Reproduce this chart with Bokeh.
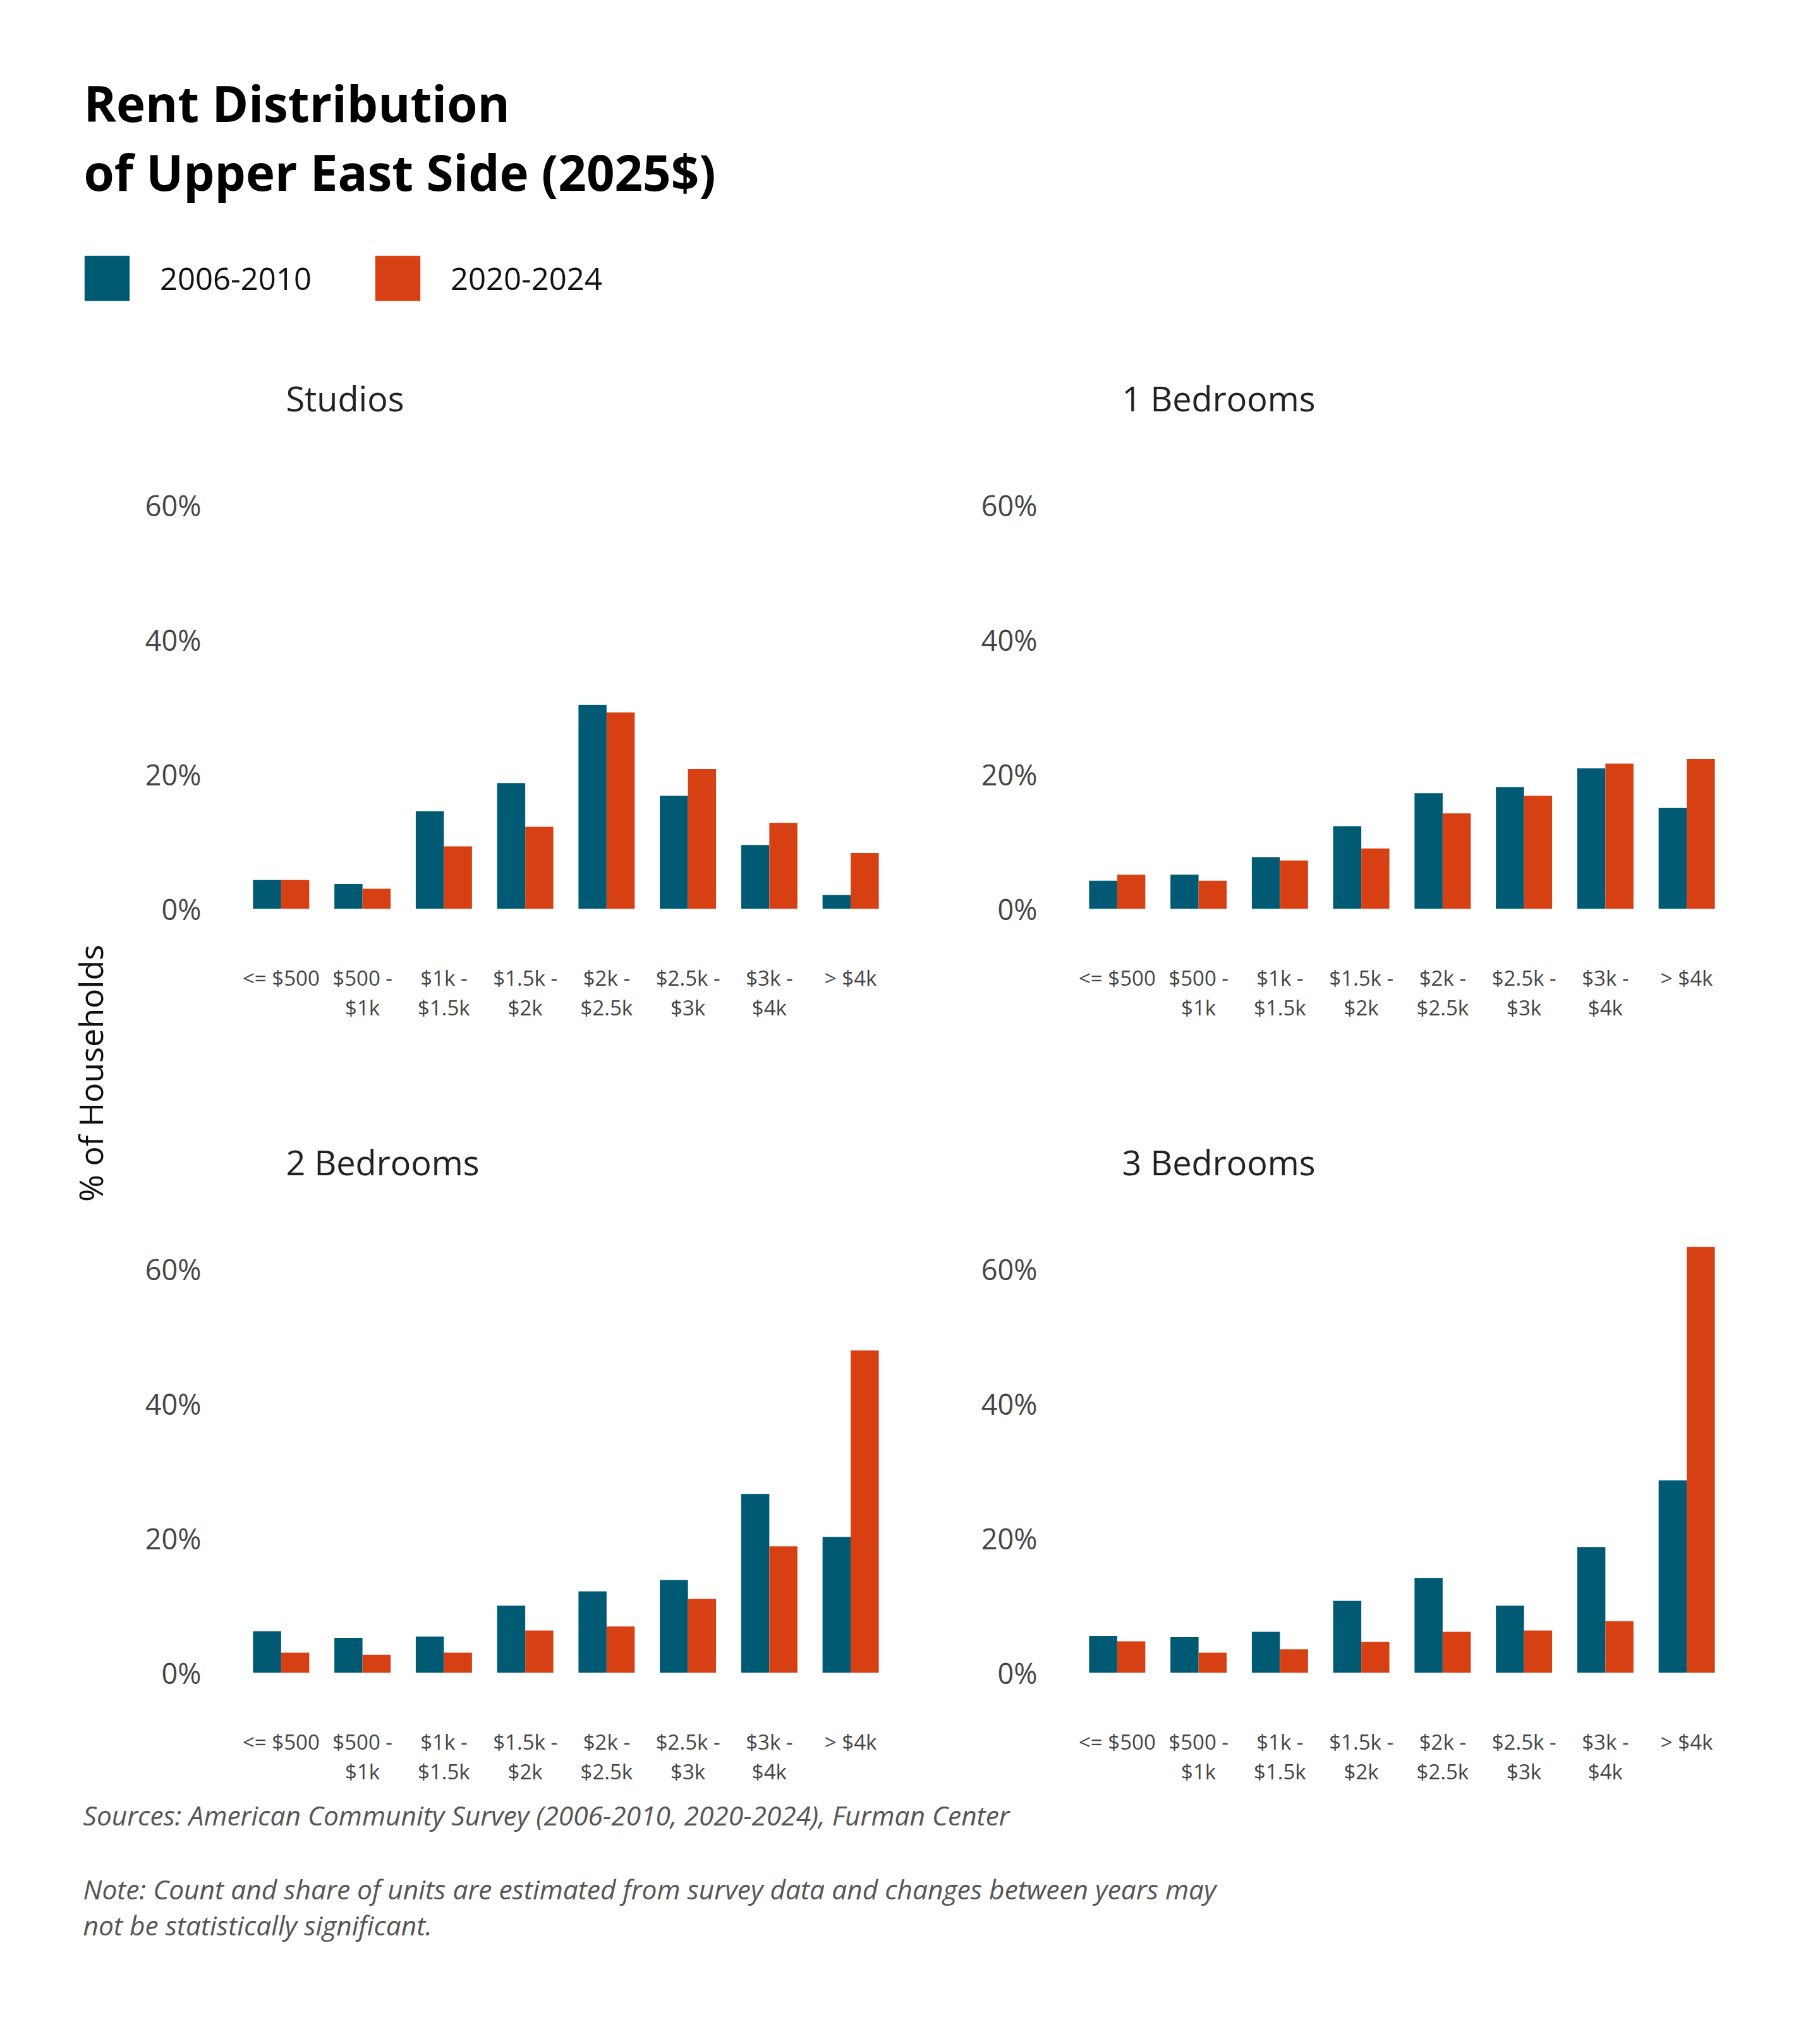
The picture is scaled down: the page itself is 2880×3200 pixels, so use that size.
import math
from bokeh.plotting import figure
from bokeh.models import (FactorRange, Range1d, FixedTicker, PrintfTickFormatter,
                          Legend, LegendItem, ColumnDataSource)
from bokeh.transform import dodge
from bokeh.layouts import row, column
from bokeh.embed import file_html
from bokeh.resources import INLINE
from bokeh.core.properties import value

# ---------------- data ----------------
categories = ["<= $500", "$500 -\n$1k", "$1k -\n$1.5k", "$1.5k -\n$2k",
              "$2k -\n$2.5k", "$2.5k -\n$3k", "$3k -\n$4k", "> $4k"]
series_names = ["2006-2010", "2020-2024"]
panel_titles = ["Studios", "1 Bedrooms", "2 Bedrooms", "3 Bedrooms"]

studios_2006 = [4.3, 3.7, 14.5, 18.7, 30.3, 16.8, 9.5, 2.1]
studios_2020 = [4.3, 3.0, 9.3, 12.2, 29.2, 20.8, 12.8, 8.3]
br1_2006 = [4.2, 5.1, 7.7, 12.3, 17.2, 18.1, 20.9, 15.0]
br1_2020 = [5.1, 4.2, 7.2, 9.0, 14.2, 16.8, 21.6, 22.3]
br2_2006 = [6.2, 5.2, 5.4, 10.0, 12.1, 13.8, 26.6, 20.2]
br2_2020 = [3.0, 2.7, 3.0, 6.3, 6.9, 11.0, 18.8, 47.9]
br3_2006 = [5.5, 5.3, 6.1, 10.7, 14.1, 10.0, 18.7, 28.6]
br3_2020 = [4.7, 3.0, 3.5, 4.6, 6.1, 6.3, 7.7, 63.3]

y_ticks = [0, 20, 40, 60]

title_lines = ["Rent Distribution", "of Upper East Side (2025$)"]
y_label = "% of Households"
source_text = "Sources: American Community Survey (2006-2010, 2020-2024), Furman Center"
note_lines = ["Note: Count and share of units are estimated from survey data and changes between years may",
              "not be statistically significant."]

# ---------------- style ----------------
BLUE = "#005a74"
ORANGE = "#d64012"
FONT = "Open Sans"
TICK_COLOR = "#444444"

W = 2864
HEAD_H = 500
YLAB_W = 200
FRAME_W = 1030
FRAME_H = 703
TOP_B = 235
ROW1_H = 1209
ROW2_H = TOP_B + FRAME_H + 192
FOOT_H = 3184 - HEAD_H - ROW1_H - ROW2_H

BAR_W = 0.3455


def panel(title, a, b, bl, br, h):
    src = ColumnDataSource(dict(cat=categories, a=a, b=b))
    p = figure(x_range=FactorRange(*categories), y_range=Range1d(0, 66),
               width=bl + FRAME_W + br, height=h,
               min_border_left=bl, min_border_right=br,
               min_border_top=TOP_B, min_border_bottom=h - TOP_B - FRAME_H,
               output_backend="svg", toolbar_location=None, tools="")
    p.vbar(x=dodge("cat", -BAR_W / 2, range=p.x_range), top="a", width=BAR_W,
           source=src, fill_color=BLUE, line_color=None)
    p.vbar(x=dodge("cat", BAR_W / 2, range=p.x_range), top="b", width=BAR_W,
           source=src, fill_color=ORANGE, line_color=None)
    p.outline_line_color = None
    p.xgrid.visible = False
    p.ygrid.visible = False
    p.background_fill_color = "white"
    p.border_fill_color = "white"

    p.yaxis.ticker = FixedTicker(ticks=y_ticks)
    p.yaxis.formatter = PrintfTickFormatter(format="%d%%")
    for ax in (p.xaxis[0], p.yaxis[0]):
        ax.axis_line_color = None
        ax.major_tick_line_color = None
        ax.minor_tick_line_color = None
        ax.major_tick_out = 0
        ax.major_tick_in = 0
        ax.major_label_text_font = FONT
        ax.major_label_text_color = TICK_COLOR
    p.yaxis.major_label_text_font_size = "45px"
    p.yaxis.major_label_standoff = 62
    p.xaxis.major_label_text_font_size = "33px"
    p.xaxis.major_label_text_line_height = 1.05
    p.xaxis.major_label_standoff = 86

    p.title.text = title
    p.title.align = "left"
    p.title.offset = 72
    p.title.standoff = 137
    p.title.text_font = FONT
    p.title.text_font_style = "normal"
    p.title.text_font_size = "54px"
    p.title.text_color = "#222222"
    return p


p1 = panel(panel_titles[0], studios_2006, studios_2020, 180, 110, ROW1_H)
p2 = panel(panel_titles[1], br1_2006, br1_2020, 183, 131, ROW1_H)
p3 = panel(panel_titles[2], br2_2006, br2_2020, 180, 110, ROW2_H)
p4 = panel(panel_titles[3], br3_2006, br3_2020, 183, 131, ROW2_H)


def blank(w, h):
    f = figure(width=w, height=h, x_range=Range1d(0, w), y_range=Range1d(h, 0),
               x_axis_type=None, y_axis_type=None, min_border=0, title=None,
               output_backend="svg", toolbar_location=None, tools="")
    f.outline_line_color = None
    f.xgrid.visible = False
    f.ygrid.visible = False
    return f


# ---------------- header ----------------
head = blank(W, HEAD_H)
head.text(x=[132, 132], y=[162, 271], text=title_lines, text_font=value(FONT),
          text_font_style="bold", text_font_size=value("78px"), text_color="#000000",
          text_baseline="middle", text_align="left")
# legend proxies (zero-size, only their legend swatches are visible)
r_a = head.vbar(x=[0], top=[0], width=0, fill_color=BLUE, line_color=BLUE)
r_b = head.vbar(x=[0], top=[0], width=0, fill_color=ORANGE, line_color=ORANGE)
legend = Legend(items=[LegendItem(label=series_names[0], renderers=[r_a]),
                       LegendItem(label=series_names[1], renderers=[r_b])],
                orientation="horizontal", location=(125, 16),
                glyph_width=88, glyph_height=88, label_standoff=40, label_width=300,
                spacing=32, padding=0, margin=0, border_line_color=None,
                background_fill_alpha=0, label_text_font=FONT,
                label_text_font_size="49px", label_text_color="#111111")
head.add_layout(legend)

# ---------------- y label ----------------
ylab = blank(YLAB_W, ROW1_H + ROW2_H)
ylab.text(x=[142], y=[1698 - HEAD_H], text=[y_label], angle=math.pi / 2,
          text_font=value(FONT), text_font_size=value("52px"), text_color="#111111",
          text_align="center", text_baseline="middle")

# ---------------- footer ----------------
foot = blank(W, FOOT_H)
top0 = HEAD_H + ROW1_H + ROW2_H
foot.text(x=[131, 131, 131], y=[2872 - top0, 2989 - top0, 3046 - top0],
          text=[source_text] + note_lines,
          text_font=value(FONT), text_font_style="italic", text_font_size=value("42.5px"),
          text_color="#555555", text_align="left", text_baseline="middle")

layout = column(head, row(ylab, column(row(p1, p2), row(p3, p4))), foot)

open("out.html", "w").write(file_html(layout, INLINE))
